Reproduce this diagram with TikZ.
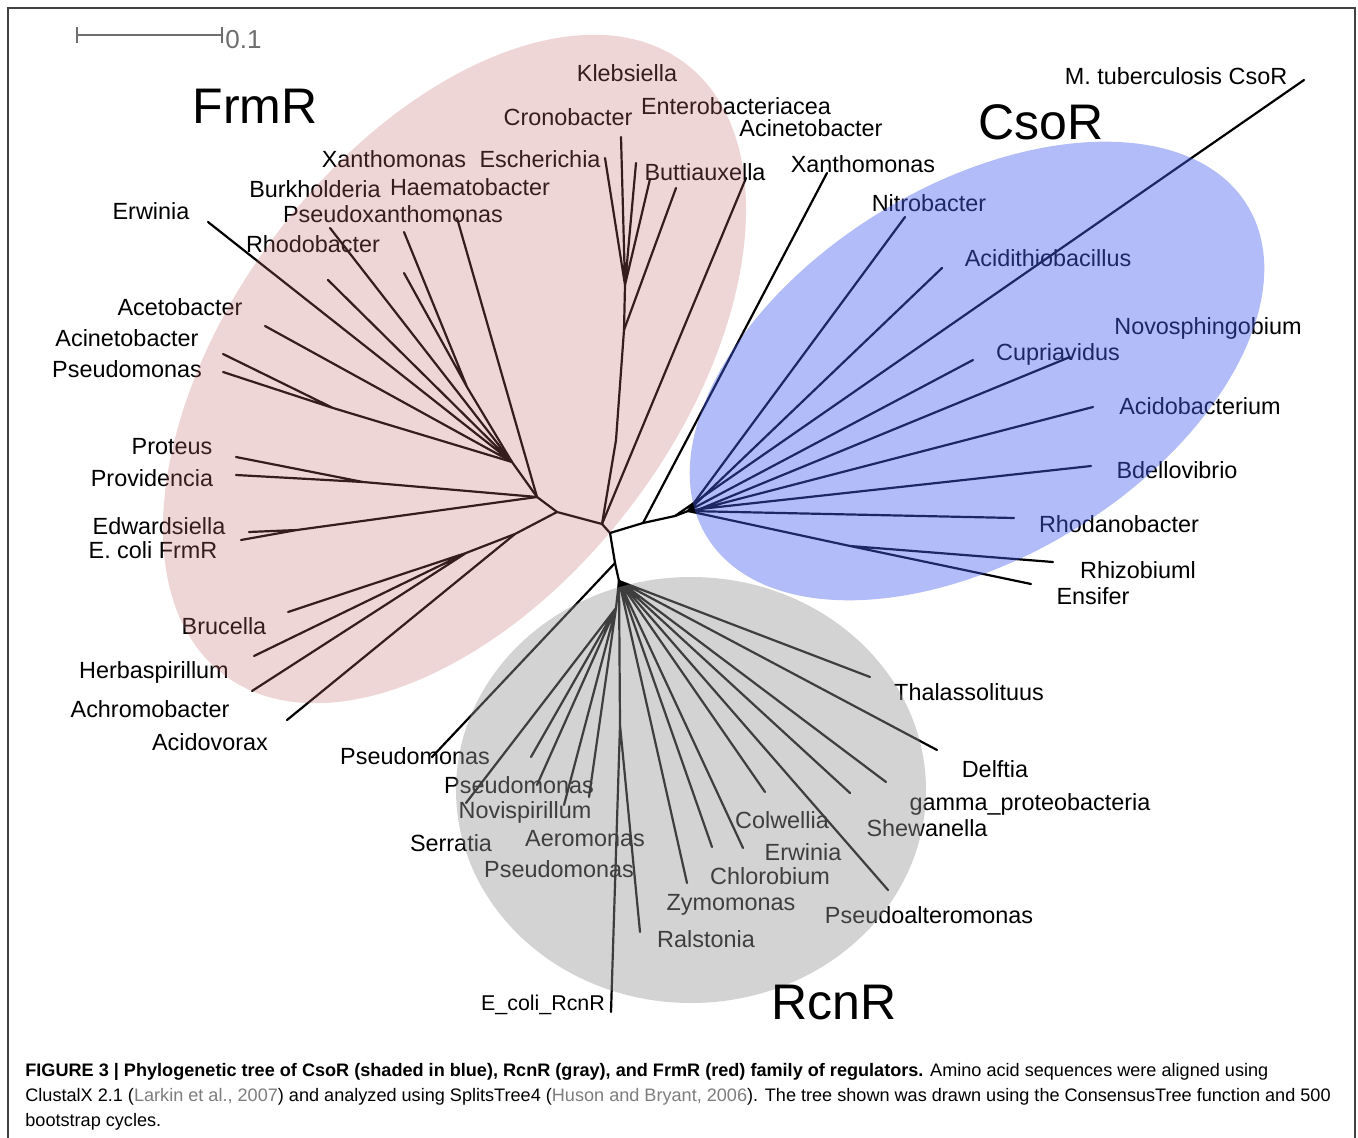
\documentclass[tikz,border=0pt]{standalone}
\usepackage{fontspec}
\setmainfont{Liberation Sans}
\usetikzlibrary{calc}

\definecolor{frmred}{RGB}{196,107,107}
\definecolor{csoblue}{RGB}{71,95,238}
\definecolor{rcngray}{RGB}{149,149,149}
\definecolor{bargray}{RGB}{110,110,110}
\definecolor{citegray}{RGB}{125,125,125}

\begin{document}
\begin{tikzpicture}[x=0.5pt,y=-0.5pt,
		branch/.style={line width=1.1pt,line cap=round},
		taxon/.style={inner sep=0pt,font=\fontsize{11.7}{14}\selectfont},
		family/.style={inner sep=0pt,font=\fontsize{25}{30}\selectfont},
		shade/.style={fill opacity=#1}]
		\useasboundingbox (0,0) rectangle (1358,1138);
		\draw [bargray!60!black,line width=0.6pt] (8,1138) -- (8,8) -- (1355,8) -- (1355,1138);
		
		% scale bar
		\coordinate (s0) at (77,35);
		\coordinate (s1) at (222,35);
		\draw [bargray,line width=1pt] (s0) -- (s1);
		\draw [bargray,line width=1pt] ($(s0)+(0,-8)$) -- ($(s0)+(0,8)$);
		\draw [bargray,line width=1pt] ($(s1)+(0,-8)$) -- ($(s1)+(0,8)$);
		\node [bargray,inner sep=0pt,anchor=west,font=\fontsize{13}{15}\selectfont] (sbar) at (225,40) {0.1};
		
		% centre of the tree
		\coordinate (root) at (610,533);
		\coordinate (f0) at (602,524);
		\coordinate (c0) at (643,523);
		\coordinate (c1) at (675,516);
		\coordinate (c2) at (688,511);
		\coordinate (c3) at (700,509);
		\coordinate (r0) at (615,563);
		\coordinate (r1) at (619,581);
		\draw [branch] (f0) -- (root) -- (c0) -- (c1) -- (c2) -- (c3);
		\draw [branch] (root) -- (r0) -- (r1);
		
		% FrmR side
		\coordinate (f1) at (557,512);
		\coordinate (f2) at (537,497);
		\coordinate (f3) at (512,462);
		\coordinate (f4) at (515,534);
		\coordinate (f5) at (466,553);
		\coordinate (k0) at (616,440);
		\coordinate (k1) at (624,330);
		\coordinate (k2) at (625,285);
		\coordinate (xh) at (467,387);
		\coordinate (ap) at (333,408);
		\coordinate (pp) at (363,482);
		\coordinate (ee) at (297,530);
		\coordinate (tEsch) at (605,158);
		\coordinate (tCron) at (621,137);
		\coordinate (tKleb) at (636,163);
		\coordinate (tButt) at (650,179);
		\coordinate (tEnt) at (676,188);
		\coordinate (tAcin1) at (746,178);
		\coordinate (tErw1) at (208,222);
		\coordinate (tBurk) at (330,228);
		\coordinate (tRhod) at (328,280);
		\coordinate (tXan1) at (404,232);
		\coordinate (tHaem) at (404,273);
		\coordinate (tPxan) at (457,218);
		\coordinate (tAcet) at (265,326);
		\coordinate (tAcin2) at (223,354);
		\coordinate (tPseu1) at (223,372);
		\coordinate (tProt) at (236,457);
		\coordinate (tProv) at (236,475);
		\coordinate (tEdw) at (249,532);
		\coordinate (tEcF) at (241,540);
		\coordinate (tBruc) at (288,612);
		\coordinate (tHerb) at (254,656);
		\coordinate (tAchr) at (252,691);
		\coordinate (tAcid) at (287,720);
		\draw [branch] (f0) -- (f1) -- (f2) -- (f3);
		\draw [branch] (f0) -- (k0) -- (k1) -- (k2);
		\draw [branch] (k2) -- (tEsch) (k2) -- (tCron) (k2) -- (tKleb) (k2) -- (tButt);
		\draw [branch] (k1) -- (tEnt) (f0) -- (tAcin1);
		\draw [branch] (f3) -- (tErw1) (f3) -- (tBurk) (f3) -- (tRhod) (f3) -- (tAcet);
		\draw [branch] (f3) -- (xh) (xh) -- (tXan1) (xh) -- (tHaem) (f2) -- (tPxan);
		\draw [branch] (f3) -- (ap) (ap) -- (tAcin2) (ap) -- (tPseu1);
		\draw [branch] (f2) -- (pp) (pp) -- (tProt) (pp) -- (tProv);
		\draw [branch] (f2) -- (ee) (ee) -- (tEdw) (ee) -- (tEcF);
		\draw [branch] (f1) -- (f4) -- (f5);
		\draw [branch] (f5) -- (tBruc) (f5) -- (tHerb) (f5) -- (tAchr) (f4) -- (tAcid);
		
		% CsoR side
		\coordinate (cre) at (850,546);
		\coordinate (tXan2) at (827,173);
		\coordinate (tMtb) at (1304,80);
		\coordinate (tNitro) at (905,217);
		\coordinate (tAcidt) at (942,268);
		\coordinate (tCupr) at (973,360);
		\coordinate (tNovo) at (1070,357);
		\coordinate (tAcidb) at (1093,407);
		\coordinate (tBdel) at (1091,466);
		\coordinate (tRhdn) at (1014,518);
		\coordinate (tRhiz) at (1053,562);
		\coordinate (tEns) at (1031,584);
		\draw [branch] (c0) -- (tXan2) (c1) -- (tMtb);
		\draw [branch] (c2) -- (tNitro) (c2) -- (tAcidt) (c2) -- (tCupr) (c3) -- (tNovo);
		\draw [branch] (c3) -- (tAcidb) (c3) -- (tBdel) (c2) -- (tRhdn);
		\draw [branch] (c2) -- (cre) (cre) -- (tRhiz) (cre) -- (tEns);
		
		% RcnR side
		\coordinate (rl) at (616,608);
		\coordinate (re) at (620,725);
		\coordinate (tPseu2) at (432,757);
		\coordinate (tSerr) at (466,803);
		\coordinate (tR2) at (531,757);
		\coordinate (tR3) at (537,785);
		\coordinate (tR4) at (564,805);
		\coordinate (tR5) at (589,797);
		\coordinate (tEcR) at (611,1012);
		\coordinate (tRals) at (640,932);
		\coordinate (tZymo) at (687,883);
		\coordinate (tChlo) at (712,847);
		\coordinate (tErw2) at (743,848);
		\coordinate (tColw) at (765,792);
		\coordinate (tR6) at (850,793);
		\coordinate (tR7) at (886,782);
		\coordinate (tPalt) at (888,890);
		\coordinate (tDelf) at (937,750);
		\coordinate (tThal) at (870,677);
		\draw [branch] (r0) -- (tPseu2);
		\draw [branch] (r1) -- (rl) (rl) -- (tSerr) (rl) -- (tR2) (rl) -- (tR3) (rl) -- (tR4) (rl) -- (tR5);
		\draw [branch] (r1) -- (re) (re) -- (tEcR) (re) -- (tRals);
		\draw [branch] (r1) -- (tZymo) (r1) -- (tChlo) (r1) -- (tErw2) (r1) -- (tColw);
		\draw [branch] (r1) -- (tR6) (r1) -- (tR7) (r1) -- (tPalt) (r1) -- (tDelf) (r1) -- (tThal);
		
		% labels FrmR
		\node [taxon] (lKleb) at (627,73) {Klebsiella};
		\node [taxon] (lEnt) at (736,106) {Enterobacteriacea};
		\node [taxon] (lCron) at (568,117) {Cronobacter};
		\node [taxon] (lAcin1) at (811,128) {Acinetobacter};
		\node [taxon] (lXan1) at (394,159) {Xanthomonas};
		\node [taxon] (lEsch) at (540,159) {Escherichia};
		\node [taxon] (lButt) at (705,172) {Buttiauxella};
		\node [taxon] (lBurk) at (315,189) {Burkholderia};
		\node [taxon] (lHaem) at (470,187) {Haematobacter};
		\node [taxon] (lErw1) at (151,211) {Erwinia};
		\node [taxon] (lPxan) at (393,214) {Pseudoxanthomonas};
		\node [taxon] (lRhod) at (313,244) {Rhodobacter};
		\node [taxon] (lAcet) at (180,307) {Acetobacter};
		\node [taxon] (lAcin2) at (127,338) {Acinetobacter};
		\node [taxon] (lPseu1) at (127,369) {Pseudomonas};
		\node [taxon] (lProt) at (172,447) {Proteus};
		\node [taxon] (lProv) at (152,478) {Providencia};
		\node [taxon] (lEdw) at (159,526) {Edwardsiella};
		\node [taxon] (lEcF) at (153,550) {E. coli FrmR};
		\node [taxon] (lBruc) at (224,626) {Brucella};
		\node [taxon] (lHerb) at (154,672) {Herbaspirillum};
		\node [taxon] (lAchr) at (150,709) {Achromobacter};
		\node [taxon] (lAcid) at (210,742) {Acidovorax};
		
		% labels CsoR
		\node [taxon] (lMtb) at (1176,76) {M. tuberculosis CsoR};
		\node [taxon] (lXan2) at (863,164) {Xanthomonas};
		\node [taxon] (lNitro) at (929,203) {Nitrobacter};
		\node [taxon] (lAcidt) at (1048,258) {Acidithiobacillus};
		\node [taxon] (lNovo) at (1208,328) {Novosphingobium};
		\node [taxon] (lCupr) at (1058,354) {Cupriavidus};
		\node [taxon] (lAcidb) at (1200,406) {Acidobacterium};
		\node [taxon] (lBdel) at (1177,470) {Bdellovibrio};
		\node [taxon] (lRhdn) at (1119,524) {Rhodanobacter};
		\node [taxon] (lRhiz) at (1138,570) {Rhizobiuml};
		\node [taxon] (lEns) at (1093,596) {Ensifer};
		
		% labels RcnR
		\node [taxon] (lPseu2) at (415,756) {Pseudomonas};
		\node [taxon] (lPseu3) at (519,785) {Pseudomonas};
		\node [taxon] (lNovi) at (525,812) {Novispirillum};
		\node [taxon] (lSerr) at (451,843) {Serratia};
		\node [taxon] (lAero) at (585,839) {Aeromonas};
		\node [taxon] (lPseu4) at (559,869) {Pseudomonas};
		\node [taxon,font=\fontsize{10.7}{13}\selectfont] (lEcR) at (543,1005) {E\_coli\_RcnR};
		\node [taxon] (lRals) at (706,939) {Ralstonia};
		\node [taxon] (lZymo) at (731,905) {Zymomonas};
		\node [taxon] (lChlo) at (770,876) {Chlorobium};
		\node [taxon] (lErw2) at (803,852) {Erwinia};
		\node [taxon] (lColw) at (782,820) {Colwellia};
		\node [taxon] (lPalt) at (929,915) {Pseudoalteromonas};
		\node [taxon] (lShew) at (927,828) {Shewanella};
		\node [taxon] (lGamma) at (1030,804) {gamma\_proteobacteria};
		\node [taxon] (lDelf) at (995,769) {Delftia};
		\node [taxon] (lThal) at (969,692) {Thalassolituus};
		
		% shaded families, laid over the tree
		\fill [frmred,shade=0.28,rotate around={53:(454.5,369)}] (454.5,369) ellipse [x radius=383,y radius=223.5];
		\fill [csoblue,shade=0.42,rotate around={31.5:(977,371)}] (977,371) ellipse [x radius=317,y radius=186];
		\fill [rcngray,shade=0.42] (691,790) ellipse [x radius=235,y radius=213];
		
		\node [family] (nFrm) at (255,106) {FrmR};
		\node [family] (nCso) at (1041,122) {CsoR};
		\node [family] (nRcn) at (834,1003) {RcnR};
		
		% caption
		\node [inner sep=0pt,anchor=north west,align=left,font=\fontsize{9.05}{12.5}\selectfont] (cap) at (25,1063) {\textbf{FIGURE 3 | Phylogenetic tree of CsoR (shaded in blue), RcnR (gray), and FrmR (red) family of regulators.} Amino acid sequences were aligned using\\ClustalX 2.1 (\textcolor{citegray}{Larkin et al., 2007}) and analyzed using SplitsTree4 (\textcolor{citegray}{Huson and Bryant, 2006}). The tree shown was drawn using the ConsensusTree function and 500\\bootstrap cycles.};
	\end{tikzpicture}
\end{document}
